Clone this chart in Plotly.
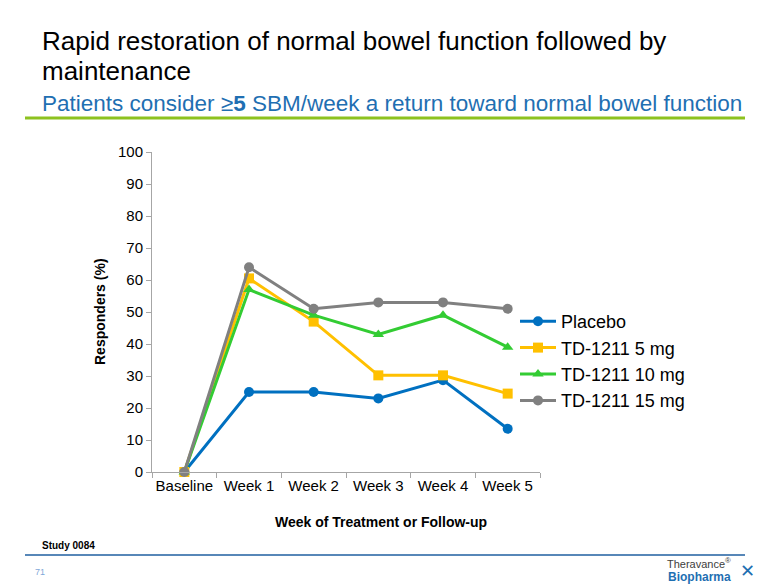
import plotly.graph_objects as go

categories = ["Baseline", "Week 1", "Week 2", "Week 3", "Week 4", "Week 5"]
placebo = [0, 25, 25, 23, 28.7, 13.5]
td_5mg = [0, 60.5, 47, 30.2, 30.2, 24.5]
td_10mg = [0, 57, 49, 43, 49, 39]
td_15mg = [0, 64, 51, 53, 53, 51]
y_ticks = [0, 10, 20, 30, 40, 50, 60, 70, 80, 90, 100]

series = [
    ("Placebo", placebo, "#0070C0", "circle"),
    ("TD-1211 5 mg", td_5mg, "#FFC000", "square"),
    ("TD-1211 10 mg", td_10mg, "#33CC33", "triangle-up"),
    ("TD-1211 15 mg", td_15mg, "#808080", "circle"),
]

W, H = 780, 585
L, R, T, B = 152, 240, 152, 113


def px2x(px):
    return (px - L) / (W - L - R)


def px2y(py):
    return (H - B - py) / (H - T - B)


fig = go.Figure()
for name, vals, color, sym in series:
    fig.add_trace(go.Scatter(
        x=categories, y=vals, name=name, mode="lines+markers",
        line=dict(color=color, width=3),
        marker=dict(color=color, symbol=sym, size=10),
        cliponaxis=False,
    ))

font = "Liberation Sans, Arial, sans-serif"
fig.update_layout(
    width=W, height=H,
    margin=dict(l=L, r=R, t=T, b=B),
    paper_bgcolor="white", plot_bgcolor="white",
    font=dict(family=font, color="black", size=15),
    showlegend=True,
    legend=dict(x=px2x(515), xanchor="left", y=px2y(303), yanchor="top",
                font=dict(size=18, family=font), tracegroupgap=0,
                itemwidth=36, bgcolor="rgba(0,0,0,0)"),
    xaxis=dict(
        type="category", range=[-0.5, 5.5], showgrid=False,
        showline=True, linecolor="#A6A6A6", linewidth=1,
        ticks="outside", tickcolor="#A6A6A6", ticklen=5, tickson="boundaries",
        tickfont=dict(size=15, family=font), tickangle=0,
    ),
    yaxis=dict(
        range=[0, 100], tickvals=y_ticks, showgrid=False, zeroline=False,
        showline=True, linecolor="#A6A6A6", linewidth=1,
        ticks="outside", tickcolor="#A6A6A6", ticklen=5,
        tickfont=dict(size=15, family=font),
    ),
)

ann = [
    dict(x=40, y=41, text="Rapid restoration of normal bowel function followed by", size=26, color="black", anchor="left"),
    dict(x=40, y=71, text="maintenance", size=26, color="black", anchor="left"),
    dict(x=40, y=103, text="Patients consider ≥<b>5</b> SBM/week a return toward normal bowel function", size=22.5, color="#1F6FB2", anchor="left"),
    dict(x=40, y=545, text="<b>Study 0084</b>", size=10, color="black", anchor="left"),
    dict(x=33, y=572, text="71", size=9, color="#7FA7D8", anchor="left"),
    dict(x=381, y=522, text="<b>Week of Treatment or Follow-up</b>", size=14, color="black", anchor="center"),
    dict(x=733, y=563, text="Theravance<sup>®</sup>", size=11, color="#404040", anchor="right"),
    dict(x=733, y=577, text="<b>Biopharma</b>", size=12, color="#1F6FB2", anchor="right"),
]
for a in ann:
    fig.add_annotation(xref="paper", yref="paper", x=px2x(a["x"]), y=px2y(a["y"]),
                       xanchor=a["anchor"], yanchor="middle", showarrow=False,
                       text=a["text"], font=dict(size=a["size"], color=a["color"], family=font))

fig.add_annotation(xref="paper", yref="paper", x=px2x(100), y=px2y(312), xanchor="center", yanchor="middle",
                   showarrow=False, textangle=-90, text="<b>Responders (%)</b>",
                   font=dict(size=14, color="black", family=font))
fig.add_annotation(xref="paper", yref="paper", x=px2x(747), y=px2y(570), xanchor="center", yanchor="middle",
                   showarrow=False, text="✕", font=dict(size=18, color="#1F6FB2", family="DejaVu Sans"))

fig.add_shape(type="line", xref="paper", yref="paper", x0=px2x(25), x1=px2x(745),
              y0=px2y(118), y1=px2y(118), line=dict(color="#8DC21F", width=3))
fig.add_shape(type="line", xref="paper", yref="paper", x0=px2x(25), x1=px2x(745),
              y0=px2y(555), y1=px2y(555), line=dict(color="#1F5FA0", width=1.5))

fig.write_html("out.html", config={"displayModeBar": False},
               post_script="document.body.style.margin='0';document.body.style.padding='0';")
